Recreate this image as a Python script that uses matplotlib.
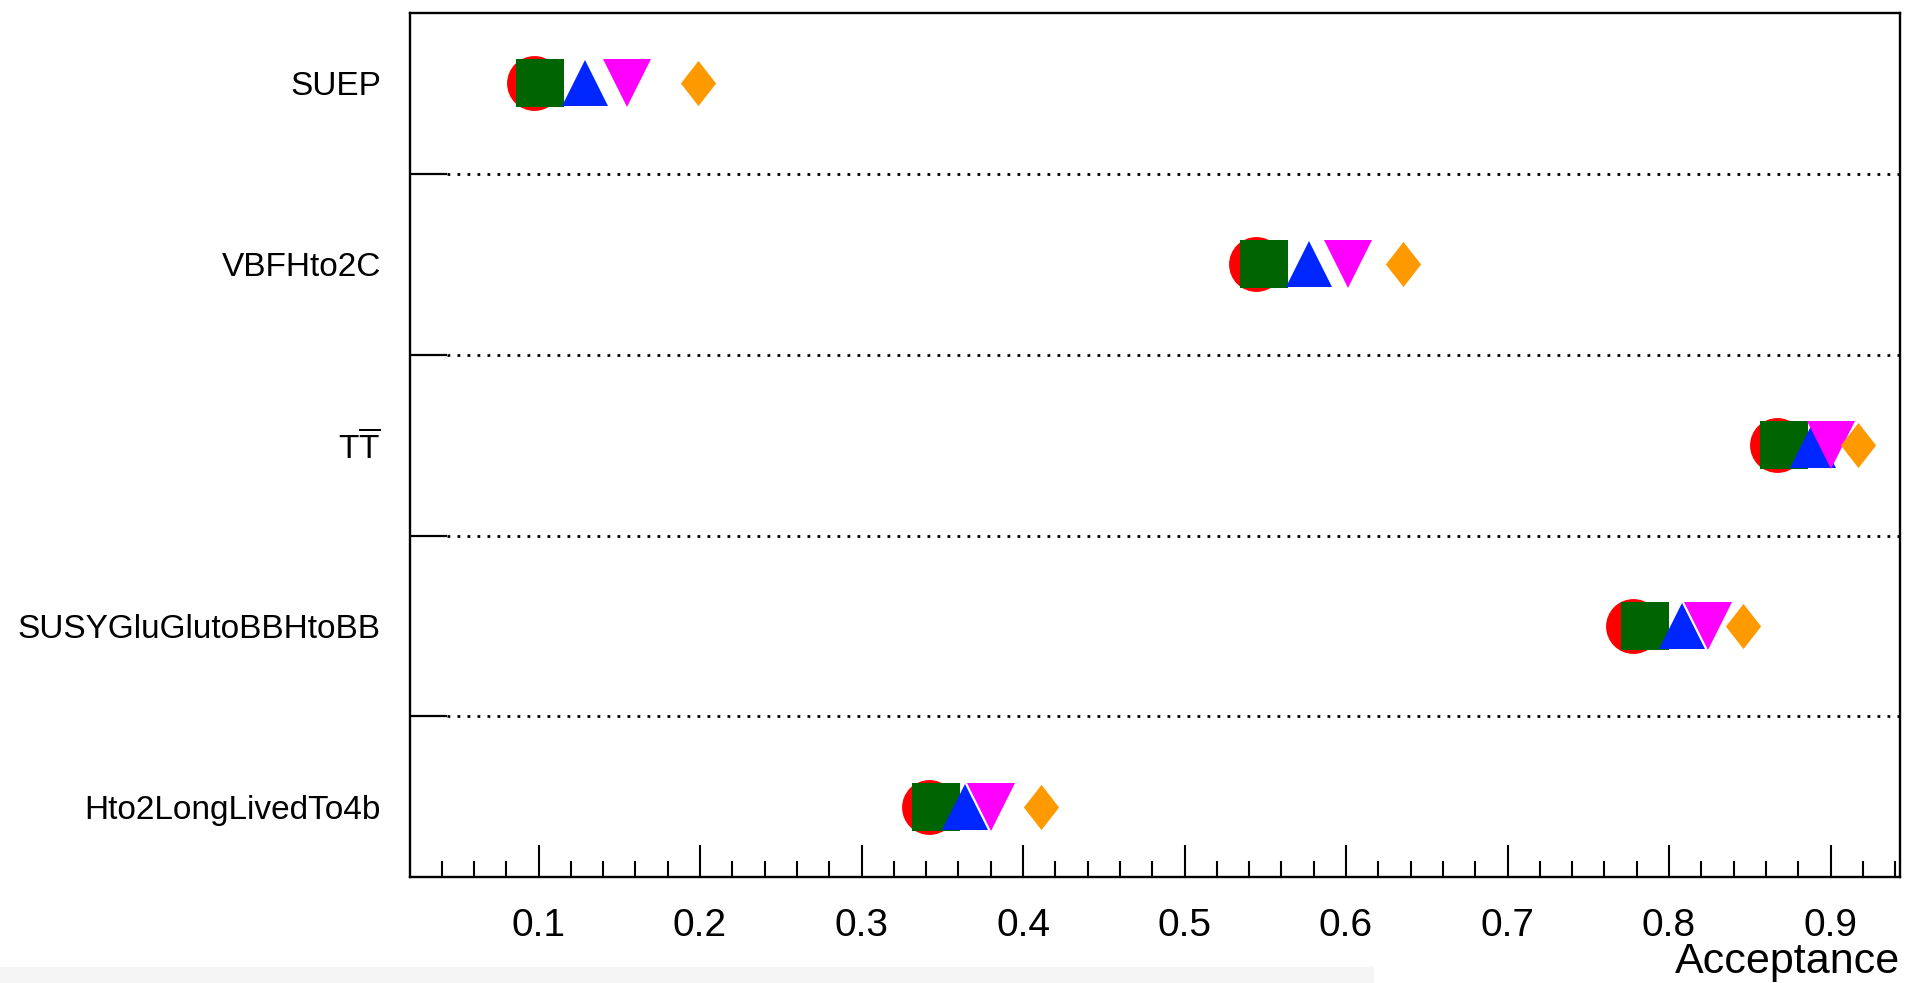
import numpy as np
import matplotlib
matplotlib.use("Agg")
import matplotlib.pyplot as plt
from matplotlib.ticker import MultipleLocator, NullFormatter
from matplotlib.patches import Rectangle

plt.rcParams['font.family'] = ['Liberation Sans', 'DejaVu Sans']
plt.rcParams['mathtext.fontset'] = 'custom'
plt.rcParams['mathtext.rm'] = 'Liberation Sans'
plt.rcParams['mathtext.it'] = 'Liberation Sans:italic'

# --- data (bottom to top) ---
samples = ["Hto2LongLivedTo4b", "SUSYGluGlutoBBHtoBB", r"$\mathrm{T\overline{T}}$",
           "VBFHto2C", "SUEP"]
acc_circle = [0.342, 0.778, 0.867, 0.544, 0.097]
acc_square = [0.346, 0.785, 0.871, 0.549, 0.101]
acc_triup = [0.364, 0.808, 0.889, 0.577, 0.129]
acc_tridown = [0.380, 0.824, 0.900, 0.601, 0.155]
acc_diamond = [0.411, 0.846, 0.917, 0.635, 0.199]

x_ticks = [0.1, 0.2, 0.3, 0.4, 0.5, 0.6, 0.7, 0.8, 0.9]

# thin diamond (ROOT style)
diamond = [(0, 0.5), (0.39, 0), (0, -0.5), (-0.39, 0), (0, 0.5)]

fig = plt.figure(figsize=(19.07, 9.83), dpi=100)
ax = fig.add_axes([0.215, 0.1078, 0.7813, 0.8790])

ypos = np.arange(len(samples))

ax.plot(acc_circle, ypos, ls='none', marker='o', ms=39.5, color='#ff0000', mew=0, zorder=3)
ax.plot(acc_square, ypos, ls='none', marker='s', ms=34.5, color='#006400', mew=0, zorder=4)
ax.plot(acc_triup, ypos, ls='none', marker='^', ms=33.5, color='#0026ff', mew=0, zorder=5)
ax.plot(acc_tridown, ypos, ls='none', marker='v', ms=35, color='#ff00ff', mew=0, zorder=6)
ax.plot(acc_diamond, ypos, ls='none', marker=diamond, ms=32.5, color='#ff9900', mew=0, zorder=7)

# dotted separators between samples
bounds = ypos[:-1] + 0.5
for b in bounds:
    ax.plot([0.0433, 0.943], [b, b], color='black', lw=2.0, ls=(0, (1, 2.6)), zorder=2)

ax.set_xlim(0.0204, 0.943)
ax.set_ylim(-0.387, len(samples) - 1 + 0.387)

ax.set_xticks(x_ticks)
ax.set_xticklabels([f"{t:.1f}" for t in x_ticks])
ax.xaxis.set_minor_locator(MultipleLocator(0.02))
ax.tick_params(axis='x', which='major', direction='in', length=23, width=1.5,
               labelsize=28, pad=22, top=False)
ax.tick_params(axis='x', which='minor', direction='in', length=11.5, width=1.5, top=False)

ax.set_yticks(bounds)
ax.yaxis.set_major_formatter(NullFormatter())
ax.set_yticks(ypos, minor=True)
ax.set_yticklabels(samples, minor=True)
ax.tick_params(axis='y', which='major', direction='in', length=26.5, width=1.6, right=False)
ax.tick_params(axis='y', which='minor', length=0, labelsize=24, pad=21, right=False)

for sp in ax.spines.values():
    sp.set_linewidth(1.7)

fig.text(1900 / 1907, 1 - 962 / 983, "Acceptance", ha='right', va='center', fontsize=31)

# faint grey strip at the bottom of the screenshot
fig.patches.append(Rectangle((0, 0), 0.72, 0.016, transform=fig.transFigure,
                             color='#f5f5f5', zorder=-1))

fig.savefig("out.png", dpi=100)
